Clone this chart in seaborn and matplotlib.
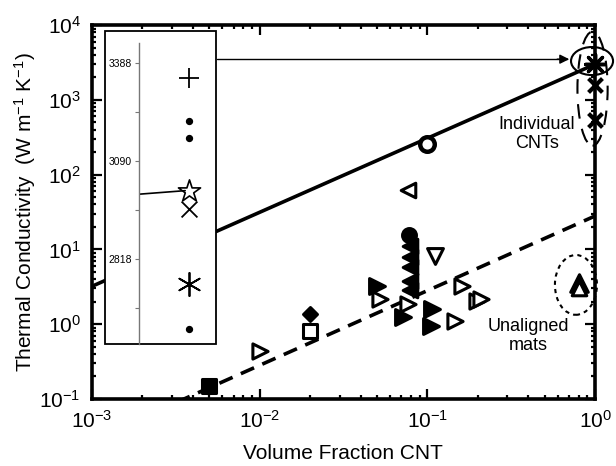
import numpy as np
import pandas as pd
import matplotlib
matplotlib.use('Agg')
import matplotlib.pyplot as plt
import seaborn as sns
from matplotlib.patches import Ellipse, Rectangle
from matplotlib.ticker import FixedLocator, NullFormatter, NullLocator

sns.set_style('ticks')
plt.rcParams['font.family'] = ['Liberation Sans', 'DejaVu Sans']
plt.rcParams['mathtext.default'] = 'regular'
for k in ['text.color', 'axes.labelcolor', 'xtick.color', 'ytick.color', 'axes.edgecolor']:
    plt.rcParams[k] = 'black'

# fit lines (volume fraction -> k)
line_x = [1e-3, 1.0]
solid_y = [3.2, 3000]
dashed_x = [0.0032, 1.0]
dashed_y = [0.09, 28]

# measured data, one list pair per symbol
fsq_x, fsq_y = [0.005], [0.15]
osq_x, osq_y = [0.02], [0.81]
fdia_x, fdia_y = [0.02], [1.36]
ocirc_x, ocirc_y = [0.1], [255]
fcirc_x, fcirc_y = [0.078], [15.5]
oleft_x, oleft_y = [0.077], [63]
fleft_x = [0.079, 0.079, 0.079, 0.079, 0.079]
fleft_y = [11, 7.8, 5.75, 3.75, 2.84]
odown_x, odown_y = [0.111], [8.1]
fright_x = [0.05, 0.072, 0.107, 0.105]
fright_y = [3.2, 1.24, 1.58, 0.95]
oright_x = [0.01, 0.052, 0.077, 0.146, 0.16, 0.198, 0.21]
oright_y = [0.44, 2.15, 1.85, 1.1, 3.2, 2.03, 2.14]
fup_x, fup_y = [0.8], [3.6]
oup_x, oup_y = [0.8], [3.0]
star_x, star_y = [1.0], [3000]
cross_x, cross_y = [1.0, 1.0], [1600, 540]

# inset (single CNT values)
inset_x = 0.65
inset_plus = [3339]
inset_dots = [3208, 3158, 2639]
inset_star = [3005]
inset_cross = [2954]
inset_aster = [2753]
inset_ticks = [2818, 3090, 3388]
inset_minor = [2691, 2951, 3236]

fig = plt.figure(figsize=(6.16, 4.66), dpi=100)
ax = fig.add_axes([0.149, 0.144, 0.817, 0.802])
ax.set_xscale('log')
ax.set_yscale('log')

sns.lineplot(x=line_x, y=solid_y, color='black', lw=2.6, ax=ax)
sns.lineplot(x=dashed_x, y=dashed_y, color='black', lw=2.6, linestyle=(0, (4, 2.5)), ax=ax)

def pts(x, y, m, s, filled=True, lw=2.2):
    fc = 'black' if filled else 'white'
    sns.scatterplot(x=x, y=y, marker=m, s=s, color=fc, edgecolor='black',
                    linewidth=lw, ax=ax, zorder=3, clip_on=False)

pts(fsq_x, fsq_y, 's', 90)
pts(osq_x, osq_y, 's', 90, filled=False)
pts(fdia_x, fdia_y, 'D', 50)
pts(ocirc_x, ocirc_y, 'o', 110, filled=False, lw=3.2)
pts(fcirc_x, fcirc_y, 'o', 100)
pts(oleft_x, oleft_y, '<', 110, filled=False)
pts(fleft_x, fleft_y, '<', 110)
pts(odown_x, odown_y, 'v', 130, filled=False)
pts(fright_x, fright_y, '>', 130)
pts(oright_x, oright_y, '>', 120, filled=False)
pts(fup_x, fup_y, '^', 160)
pts(oup_x, oup_y, '^', 110, filled=False)
pts(star_x, star_y, (8, 2, 0), 200, lw=2.5)
sns.scatterplot(x=cross_x, y=cross_y, marker='x', s=100, color='black',
                linewidth=3, ax=ax, zorder=3, clip_on=False)

ax.set_xlim(1e-3, 1)
ax.set_ylim(0.1, 1e4)
for sp in ax.spines.values():
    sp.set_linewidth(2.6)
    sp.set_color('black')
    sp.set_visible(True)
ax.tick_params(which='both', direction='in', top=True, right=True, width=1.6, color='black')
ax.tick_params(which='major', length=7, labelsize=15, pad=8)
ax.tick_params(which='minor', length=3)
ax.set_xlabel('Volume Fraction CNT', fontsize=15, labelpad=9)
ax.set_ylabel('Thermal Conductivity  (W m$^{-1}$ K$^{-1}$)', fontsize=15, labelpad=1)

ax.text(0.885, 0.71, 'Individual\nCNTs', transform=ax.transAxes, ha='center',
        va='center', fontsize=13, linespacing=1.15)
ax.text(0.868, 0.168, 'Unaligned\nmats', transform=ax.transAxes, ha='center',
        va='center', fontsize=13, linespacing=1.15)

# ellipses (axes fraction)
ax.add_patch(Ellipse((0.994, 0.904), 0.0835, 0.075, transform=ax.transAxes,
                     fill=False, lw=1.5, ec='black', clip_on=False, zorder=4))
ax.add_patch(Ellipse((0.995, 0.83), 0.06, 0.305, transform=ax.transAxes,
                     fill=False, lw=1.5, ec='black', ls=(0, (7, 5)), clip_on=False, zorder=4))
ax.add_patch(Ellipse((0.962, 0.305), 0.0835, 0.16, transform=ax.transAxes,
                     fill=False, lw=1.5, ec='black', ls=(0, (2, 2)), clip_on=False, zorder=4))

# inset frame
fig.patches.append(Rectangle((0.1705, 0.2618), 0.180, 0.672, transform=fig.transFigure,
                             fc='white', ec='black', lw=1.3, zorder=5))
ins = fig.add_axes([0.2256, 0.2618, 0.125, 0.646])
ins.set_zorder(6)
ins.patch.set_alpha(0)
ins.set_yscale('log')
ins.set_xlim(0, 1)
ins.set_ylim(2602, 3452)
for s in ['top', 'right', 'bottom']:
    ins.spines[s].set_visible(False)
ins.spines['left'].set_color('#777777')
ins.spines['left'].set_linewidth(1.0)
ins.yaxis.set_major_locator(FixedLocator(inset_ticks))
ins.yaxis.set_minor_locator(FixedLocator(inset_minor))
ins.yaxis.set_major_formatter(plt.FixedFormatter([str(t) for t in inset_ticks]))
ins.yaxis.set_minor_formatter(NullFormatter())
ins.xaxis.set_major_locator(NullLocator())
ins.tick_params(which='both', direction='out', length=3, width=0.8, color='#777777',
                labelsize=7.5, pad=2)

sns.lineplot(x=[0, inset_x - 0.05], y=[2995, inset_star[0]], color='black', lw=1.2, ax=ins)
ins.scatter([inset_x], inset_plus, marker='+', s=220, color='black', lw=1.3)
ins.scatter([inset_x] * 3, inset_dots, marker='o', s=18, color='black')
ins.scatter([inset_x], inset_star, marker='*', s=280, facecolor='white', edgecolor='black', lw=1.2)
ins.scatter([inset_x], inset_cross, marker='x', s=130, color='black', lw=1.3)
ins.scatter([inset_x], inset_aster, marker=(6, 2, 0), s=280, color='black', lw=1.3)

# arrow from inset to individual CNTs
fig.add_artist(plt.Line2D([0.352, 0.92], [0.873, 0.873], color='black', lw=1.0, zorder=7))
ax.annotate('', xy=(0.9286, 0.873), xytext=(0.90, 0.873), xycoords='figure fraction',
            textcoords='figure fraction',
            arrowprops=dict(arrowstyle='-|>', color='black', lw=1.0, mutation_scale=14))

fig.savefig('out.png', dpi=100)
